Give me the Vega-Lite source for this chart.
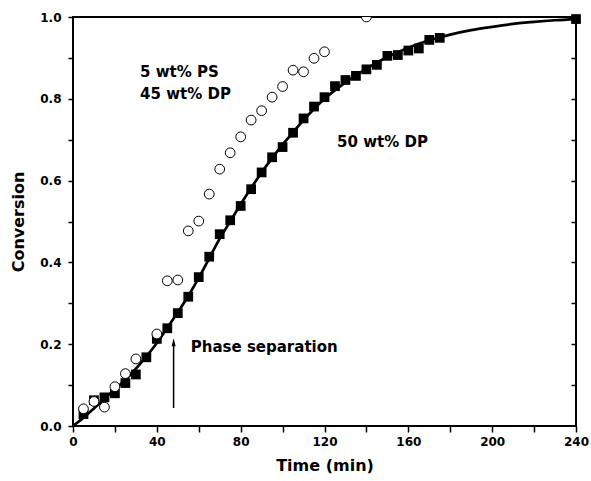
{
  "$schema": "https://vega.github.io/schema/vega-lite/v6.json",
  "autosize": "none",
  "width": 503,
  "height": 409,
  "padding": {"left": 73, "top": 17, "right": 15, "bottom": 55},
  "background": "white",
  "config": {
    "font": "DejaVu Sans",
    "view": {"stroke": "black", "strokeWidth": 2},
    "axis": {
      "labelFont": "DejaVu Sans", "labelFontWeight": "bold", "labelFontSize": 12, "labelColor": "black",
      "titleFont": "DejaVu Sans", "titleFontWeight": "bold", "titleFontSize": 16, "titleColor": "black",
      "tickColor": "black", "tickWidth": 1.5, "domain": false, "grid": false
    }
  },
  "datasets": {
    "fit": [
      {"t": 0, "c": 0}, {"t": 5, "c": 0.02}, {"t": 10, "c": 0.043}, {"t": 15, "c": 0.066}, {"t": 20, "c": 0.09},
      {"t": 25, "c": 0.113}, {"t": 30, "c": 0.14}, {"t": 35, "c": 0.17}, {"t": 40, "c": 0.203}, {"t": 45, "c": 0.24},
      {"t": 50, "c": 0.278}, {"t": 55, "c": 0.318}, {"t": 60, "c": 0.362}, {"t": 65, "c": 0.41}, {"t": 70, "c": 0.458},
      {"t": 75, "c": 0.5}, {"t": 80, "c": 0.542}, {"t": 85, "c": 0.582}, {"t": 90, "c": 0.62}, {"t": 95, "c": 0.655},
      {"t": 100, "c": 0.688}, {"t": 105, "c": 0.718}, {"t": 110, "c": 0.748}, {"t": 115, "c": 0.775}, {"t": 120, "c": 0.8},
      {"t": 130, "c": 0.84}, {"t": 140, "c": 0.874}, {"t": 150, "c": 0.902}, {"t": 160, "c": 0.925}, {"t": 170, "c": 0.943},
      {"t": 180, "c": 0.957}, {"t": 190, "c": 0.968}, {"t": 200, "c": 0.976}, {"t": 210, "c": 0.983}, {"t": 220, "c": 0.988},
      {"t": 230, "c": 0.992}, {"t": 240, "c": 0.995}
    ],
    "dp50": [
      {"t": 5, "c": 0.029}, {"t": 10, "c": 0.063}, {"t": 15, "c": 0.07}, {"t": 20, "c": 0.08}, {"t": 25, "c": 0.105},
      {"t": 30, "c": 0.126}, {"t": 35, "c": 0.168}, {"t": 40, "c": 0.213}, {"t": 45, "c": 0.239}, {"t": 50, "c": 0.276},
      {"t": 55, "c": 0.316}, {"t": 60, "c": 0.364}, {"t": 65, "c": 0.414}, {"t": 70, "c": 0.469}, {"t": 75, "c": 0.503},
      {"t": 80, "c": 0.538}, {"t": 85, "c": 0.579}, {"t": 90, "c": 0.62}, {"t": 95, "c": 0.657}, {"t": 100, "c": 0.682},
      {"t": 105, "c": 0.717}, {"t": 110, "c": 0.752}, {"t": 115, "c": 0.781}, {"t": 120, "c": 0.804}, {"t": 125, "c": 0.831},
      {"t": 130, "c": 0.846}, {"t": 135, "c": 0.856}, {"t": 140, "c": 0.872}, {"t": 145, "c": 0.883}, {"t": 150, "c": 0.905},
      {"t": 155, "c": 0.907}, {"t": 160, "c": 0.918}, {"t": 165, "c": 0.923}, {"t": 170, "c": 0.944}, {"t": 175, "c": 0.949},
      {"t": 240, "c": 0.995}
    ],
    "ps5": [
      {"t": 5, "c": 0.042}, {"t": 10, "c": 0.06}, {"t": 15, "c": 0.046}, {"t": 20, "c": 0.096}, {"t": 25, "c": 0.128},
      {"t": 30, "c": 0.164}, {"t": 40, "c": 0.225}, {"t": 45, "c": 0.355}, {"t": 50, "c": 0.357}, {"t": 55, "c": 0.477},
      {"t": 60, "c": 0.501}, {"t": 65, "c": 0.567}, {"t": 70, "c": 0.628}, {"t": 75, "c": 0.668}, {"t": 80, "c": 0.707},
      {"t": 85, "c": 0.748}, {"t": 90, "c": 0.771}, {"t": 95, "c": 0.804}, {"t": 100, "c": 0.83}, {"t": 105, "c": 0.87},
      {"t": 110, "c": 0.866}, {"t": 115, "c": 0.899}, {"t": 120, "c": 0.915}, {"t": 140, "c": 1.0}
    ],
    "labels": [
      {"t": 32, "c": 0.866, "label": "5 wt% PS"},
      {"t": 32, "c": 0.812, "label": "45 wt% DP"},
      {"t": 126, "c": 0.695, "label": "50 wt% DP"},
      {"t": 56.2, "c": 0.194, "label": "Phase separation"}
    ],
    "arrow": [{"t": 48, "c": 0.044, "c2": 0.2, "head": 0.205}]
  },
  "layer": [
    {
      "data": {"name": "fit"},
      "mark": {"type": "line", "color": "black", "strokeWidth": 2.7, "interpolate": "monotone"},
      "encoding": {
        "x": {
          "field": "t", "type": "quantitative",
          "scale": {"domain": [0, 240], "nice": false},
          "axis": {
            "title": "Time (min)",
            "values": [0, 20, 40, 60, 80, 100, 120, 140, 160, 180, 200, 220, 240],
            "labelExpr": "datum.value % 40 == 0 ? datum.label : ''",
            "tickSize": 6, "labelPadding": 4, "titlePadding": 10, "labelFlush": false
          }
        },
        "y": {
          "field": "c", "type": "quantitative",
          "scale": {"domain": [0, 1], "nice": false},
          "axis": {
            "title": "Conversion",
            "values": [0, 0.1, 0.2, 0.3, 0.4, 0.5, 0.6, 0.7, 0.8, 0.9, 1.0],
            "labelExpr": "round(datum.value * 10) % 2 == 0 ? format(datum.value, '.1f') : ''",
            "tickSize": 5, "labelPadding": 7, "titlePadding": 13, "labelFlush": false
          }
        }
      }
    },
    {
      "data": {"name": "dp50"},
      "mark": {"type": "square", "color": "black", "filled": true, "size": 95, "opacity": 1},
      "encoding": {
        "x": {"field": "t", "type": "quantitative"},
        "y": {"field": "c", "type": "quantitative", "axis": null}
      }
    },
    {
      "data": {"name": "ps5"},
      "mark": {"type": "point", "shape": "circle", "fill": "white", "stroke": "black", "strokeWidth": 1, "size": 95, "opacity": 1, "fillOpacity": 1, "clip": true},
      "encoding": {
        "x": {"field": "t", "type": "quantitative"},
        "y": {"field": "c", "type": "quantitative", "axis": null}
      }
    },
    {
      "data": {"name": "labels"},
      "mark": {"type": "text", "align": "left", "baseline": "middle", "font": "DejaVu Sans", "fontWeight": "bold", "fontSize": 15, "color": "black"},
      "encoding": {
        "x": {"field": "t", "type": "quantitative"},
        "y": {"field": "c", "type": "quantitative", "axis": null},
        "text": {"field": "label"}
      }
    },
    {
      "data": {"name": "arrow"},
      "mark": {"type": "rule", "color": "black", "strokeWidth": 1.5},
      "encoding": {
        "x": {"field": "t", "type": "quantitative"},
        "y": {
          "field": "c", "type": "quantitative",
          "axis": {"orient": "right", "title": null, "labels": false, "values": [0.1, 0.2, 0.3, 0.4, 0.5, 0.6, 0.7, 0.8, 0.9], "tickSize": -5}
        },
        "y2": {"field": "c2"}
      }
    },
    {
      "data": {"name": "arrow"},
      "mark": {"type": "point", "shape": "M0,-1L-0.5,1L0.5,1Z", "filled": true, "color": "black", "size": 64, "opacity": 1},
      "encoding": {
        "x": {"field": "t", "type": "quantitative"},
        "y": {"field": "head", "type": "quantitative", "axis": null}
      }
    }
  ],
  "resolve": {"axis": {"y": "independent"}}
}
